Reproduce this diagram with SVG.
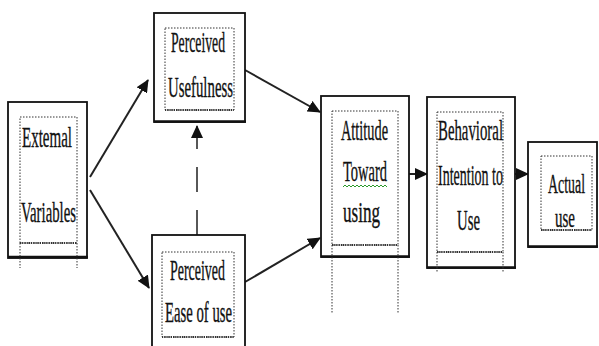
<svg xmlns="http://www.w3.org/2000/svg" width="599" height="346" viewBox="0 0 599 346">
<style>
.box{fill:#fff;stroke:#111;stroke-width:1.8}
.sh{stroke:#111;stroke-width:2.5;fill:none}
.dot{fill:none;stroke:#333;stroke-width:1;stroke-dasharray:1.5 1.5}
.dotb{fill:none;stroke:#333;stroke-width:2.2;stroke-dasharray:1.2 1}
.t{font-family:"Liberation Serif","Times New Roman",serif;font-size:29px;fill:#111;stroke:#111;stroke-width:0.35;text-anchor:start}
.c{stroke:#222;stroke-width:2;fill:none}
</style>
<defs>
<marker id="ah" markerUnits="userSpaceOnUse" markerWidth="14" markerHeight="12" refX="12" refY="6" orient="auto">
<path d="M0,0 L13,6 L0,12 Z" fill="#111"/>
</marker>
</defs>
<rect width="599" height="346" fill="#fff"/>
<g id="connectors">
<line class="c" x1="90" y1="177" x2="148" y2="80" marker-end="url(#ah)"/>
<line class="c" x1="90" y1="190" x2="149" y2="288" marker-end="url(#ah)"/>
<line class="c" x1="245" y1="70" x2="320" y2="112" marker-end="url(#ah)"/>
<line class="c" x1="245" y1="282" x2="320" y2="238" marker-end="url(#ah)"/>
<line class="c" x1="409" y1="174" x2="427" y2="174" marker-end="url(#ah)"/>
<line class="c" x1="515" y1="174" x2="528" y2="174" marker-end="url(#ah)"/>
<line x1="197" y1="235" x2="197" y2="126" stroke="#111" stroke-width="1.4" stroke-dasharray="25 18" marker-end="url(#ah)"/>
</g>
<g id="external">
<rect class="box" x="8" y="102" width="79" height="156"/>
<line class="sh" x1="8" y1="257" x2="88" y2="257"/>
<rect class="dot" x="20" y="117" width="57" height="126"/>
<line class="dotb" x1="20" y1="243" x2="77" y2="243"/>
<line class="dot" x1="20" y1="243" x2="20" y2="268"/>
<line class="dot" x1="77" y1="243" x2="77" y2="268"/>
<text class="t" x="22" y="147" textLength="50" lengthAdjust="spacingAndGlyphs">Extemal</text>
<text class="t" x="21" y="222" textLength="55" lengthAdjust="spacingAndGlyphs">Variables</text>
</g>
<g id="usefulness">
<rect class="box" x="154" y="13" width="91" height="109"/>
<line class="sh" x1="154" y1="121.5" x2="246" y2="121.5"/>
<rect class="dot" x="165" y="28" width="69" height="82"/>
<line class="dotb" x1="165" y1="110" x2="234" y2="110"/>
<text class="t" x="171" y="52" textLength="54" lengthAdjust="spacingAndGlyphs">Perceived</text>
<text class="t" x="168" y="97" textLength="65" lengthAdjust="spacingAndGlyphs">Usefulness</text>
</g>
<g id="ease">
<rect class="box" x="152" y="235" width="93" height="120"/>
<rect class="dot" x="162" y="252" width="72" height="85"/>
<line class="dotb" x1="162" y1="337" x2="234" y2="337"/>
<text class="t" x="170" y="280" textLength="55" lengthAdjust="spacingAndGlyphs">Perceived</text>
<text class="t" x="165" y="322" textLength="67" lengthAdjust="spacingAndGlyphs">Ease of use</text>
</g>
<g id="attitude">
<rect class="box" x="321" y="96" width="88" height="161"/>
<line class="sh" x1="321" y1="256.5" x2="410" y2="256.5"/>
<rect class="dot" x="332" y="111" width="66" height="134"/>
<line class="dotb" x1="332" y1="245" x2="398" y2="245"/>
<line class="dot" x1="332" y1="245" x2="332" y2="313"/>
<line class="dot" x1="398" y1="245" x2="398" y2="313"/>
<text class="t" x="341" y="140" textLength="47" lengthAdjust="spacingAndGlyphs">Attitude</text>
<text class="t" x="343" y="181" textLength="44" lengthAdjust="spacingAndGlyphs">Toward</text>
<path d="M343,187 l2,-2 l2,2 l2,-2 l2,2 l2,-2 l2,2 l2,-2 l2,2 l2,-2 l2,2 l2,-2 l2,2 l2,-2 l2,2 l2,-2 l2,2 l2,-2 l2,2 l2,-2 l2,2 l2,-2 l2,2" fill="none" stroke="#2a9a2a" stroke-width="1"/>
<text class="t" x="343" y="222" textLength="37" lengthAdjust="spacingAndGlyphs">using</text>
</g>
<g id="behavioral">
<rect class="box" x="427" y="97" width="88" height="171"/>
<line class="sh" x1="427" y1="267.5" x2="516" y2="267.5"/>
<rect class="dot" x="437" y="112" width="66" height="140"/>
<line class="dotb" x1="437" y1="252" x2="503" y2="252"/>
<line class="dot" x1="437" y1="252" x2="437" y2="273"/>
<line class="dot" x1="503" y1="252" x2="503" y2="273"/>
<text class="t" x="438" y="140" textLength="65" lengthAdjust="spacingAndGlyphs">Behavioral</text>
<text class="t" x="438" y="185" textLength="65" lengthAdjust="spacingAndGlyphs">Intention to</text>
<text class="t" x="457" y="230" textLength="23" lengthAdjust="spacingAndGlyphs">Use</text>
</g>
<g id="actual">
<rect class="box" x="528" y="142" width="69" height="105"/>
<line class="sh" x1="528" y1="246.5" x2="598" y2="246.5"/>
<rect class="dot" x="541" y="156" width="51" height="74"/>
<line class="dotb" x1="541" y1="230" x2="592" y2="230"/>
<text class="t" x="548" y="193" textLength="37" lengthAdjust="spacingAndGlyphs" style="font-size:27px">Actual</text>
<text class="t" x="555" y="227" textLength="20" lengthAdjust="spacingAndGlyphs" style="font-size:27px">use</text>
</g>
</svg>
